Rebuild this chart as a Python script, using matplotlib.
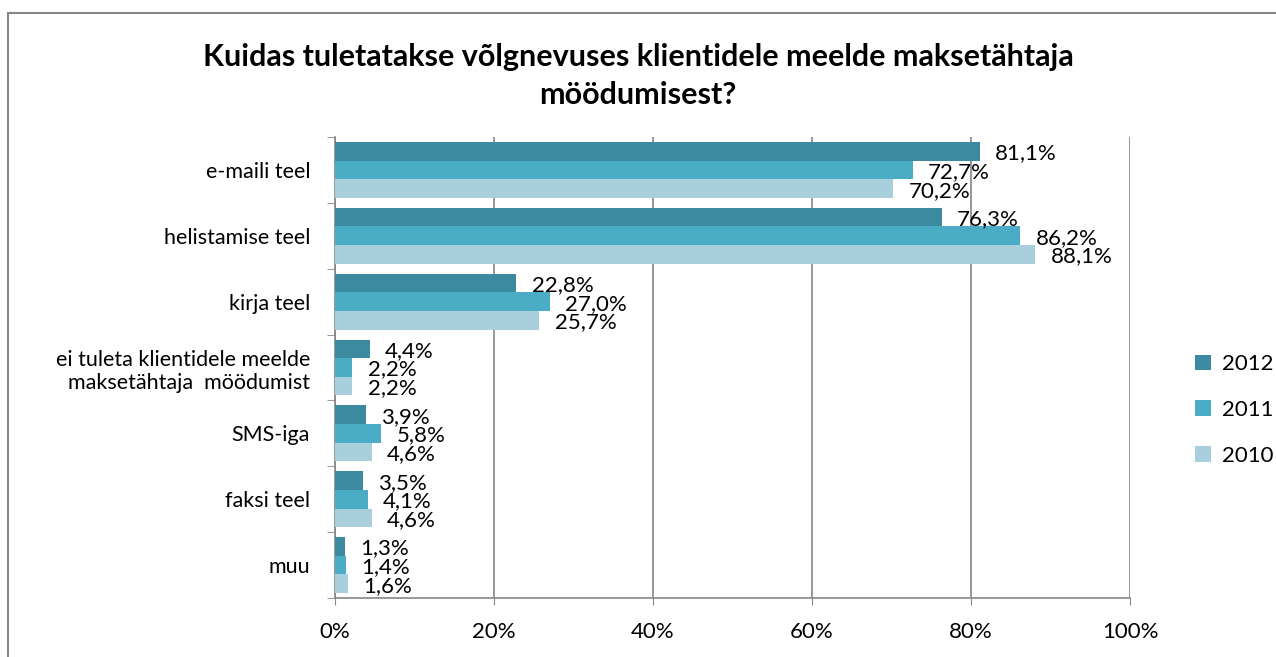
import numpy as np
import matplotlib.pyplot as plt
from matplotlib.patches import Rectangle

categories = ["e-maili teel", "helistamise teel", "kirja teel",
              "ei tuleta klientidele meelde\nmaksetähtaja  möödumist",
              "SMS-iga", "faksi teel", "muu"]
years = ["2012", "2011", "2010"]
v2012 = [81.1, 76.3, 22.8, 4.4, 3.9, 3.5, 1.3]
v2011 = [72.7, 86.2, 27.0, 2.2, 5.8, 4.1, 1.4]
v2010 = [70.2, 88.1, 25.7, 2.2, 4.6, 4.6, 1.6]
colors = ["#3C8AA0", "#4BACC6", "#A9CFDD"]

plt.rcParams['font.family'] = ['Lato', 'DejaVu Sans']

fig = plt.figure(figsize=(12.76, 6.57), dpi=100)
ax = fig.add_axes([335 / 1276, 1 - 598 / 657, 795 / 1276, (598 - 137) / 657])

n = len(categories)
y = np.arange(n)
h = 0.283
series = [v2012, v2011, v2010]
for k, (vals, col, lab) in enumerate(zip(series, colors, years)):
    pos = y + (k - 1) * h
    ax.barh(pos, vals, height=h, color=col, label=lab, zorder=3)
    for p, v in zip(pos, vals):
        ax.annotate(f"{v:.1f}%".replace(".", ","), (v, p), xytext=(11, -1.5),
                    textcoords="offset points", ha="left", va="center",
                    fontsize=16, zorder=4)

ax.set_ylim(n - 0.5, -0.5)
ax.set_xlim(0, 100)
ax.set_xticks(np.arange(0, 101, 20))
ax.set_xticklabels([f"{t}%" for t in range(0, 101, 20)], fontsize=16)
ax.set_yticks(y)
ax.set_yticklabels(categories, fontsize=15.5)
ax.tick_params(axis="y", length=0, pad=18)
ax.set_yticks(np.arange(-0.5, n, 1), minor=True)
ax.tick_params(axis="y", which="minor", length=6, color="#868686", direction="out")
ax.tick_params(axis="x", length=5, color="#868686", pad=12)
ax.grid(axis="x", color="#868686", linewidth=1.2, zorder=0)
for s in ["top", "right"]:
    ax.spines[s].set_visible(False)
for s in ["left", "bottom"]:
    ax.spines[s].set_color("#868686")
    ax.spines[s].set_linewidth(1.2)

ax.legend(loc="center left", bbox_to_anchor=(1195 / 1276, 1 - 410 / 657),
          bbox_transform=fig.transFigure, frameon=False, fontsize=16,
          borderpad=0, borderaxespad=0,
          handlelength=0.7, handleheight=0.7, labelspacing=1.15, handletextpad=0.5)

fig.text(0.5, 1 - 57 / 657, "Kuidas tuletatakse võlgnevuses klientidele meelde maksetähtaja",
         ha="center", va="center", fontsize=22, fontweight="bold")
fig.text(0.5, 1 - 95 / 657, "möödumisest?",
         ha="center", va="center", fontsize=22, fontweight="bold")

fig.patches.append(Rectangle((8 / 1276, -0.01), 1.2, 1 - 13 / 657 + 0.01,
                             transform=fig.transFigure, fill=False,
                             edgecolor="#868686", linewidth=1.5))

fig.savefig("out.png", dpi=100)
